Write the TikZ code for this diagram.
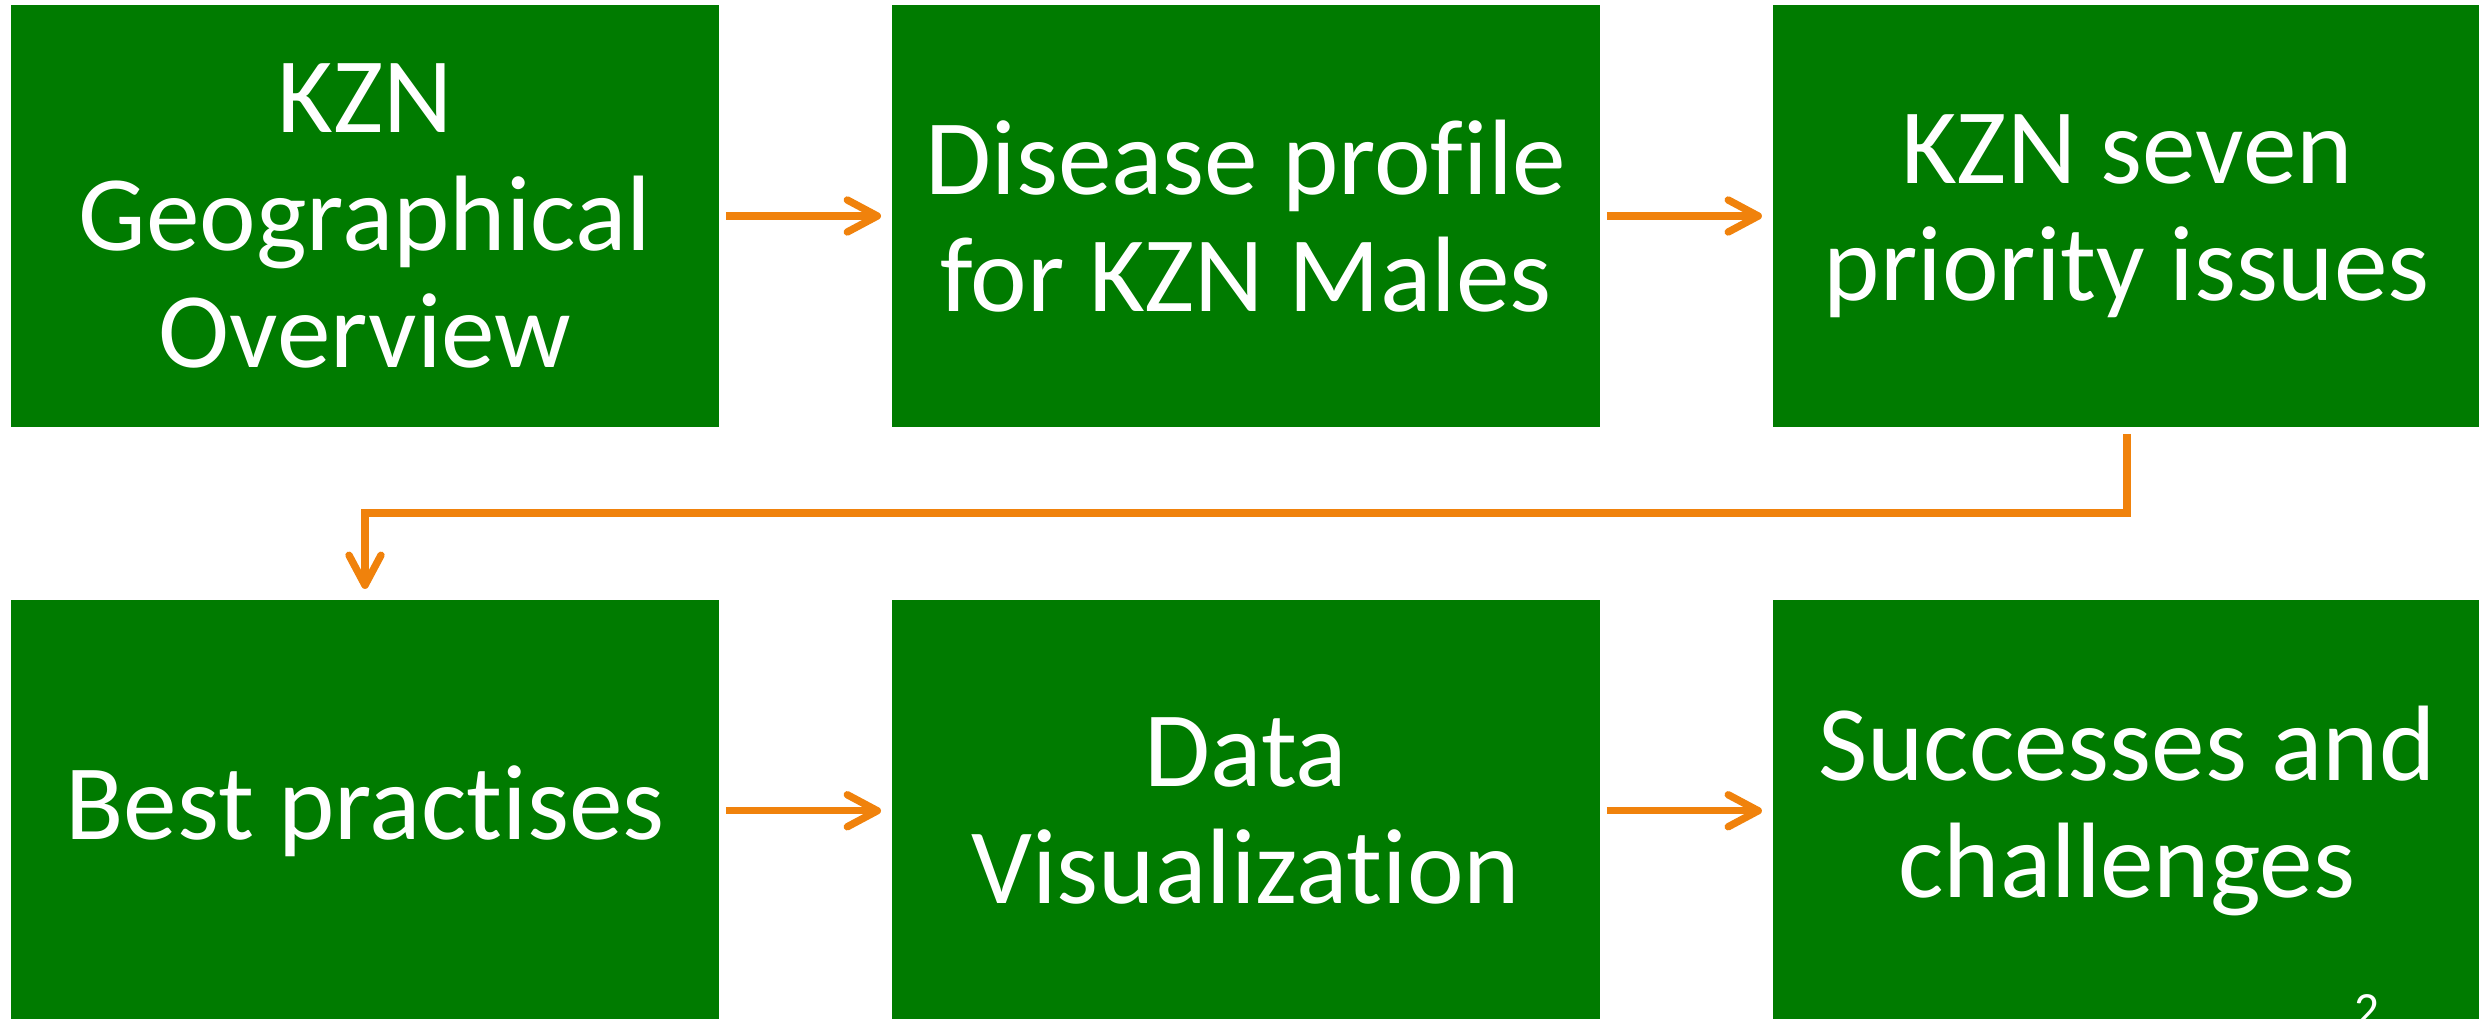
\documentclass[tikz,border=0pt]{standalone}
\usepackage{fontspec}
\setmainfont{Carlito}[Ligatures=NoCommon]
\usetikzlibrary{positioning,arrows.meta}
\definecolor{boxgreen}{RGB}{0,123,0}
\definecolor{arroworange}{RGB}{240,130,12}
\tikzset{
  stage/.style={fill=boxgreen, text=white, minimum width=7.08cm, minimum height=4.22cm,
    inner sep=0pt, align=center, font=\fontsize{30.5pt}{33.3pt}\selectfont},
  flow/.style={draw=arroworange, line width=2.1pt,
    -{Straight Barb[length=0.3cm,width=0.32cm,line cap=round,line join=round]},
    shorten <=0.06cm, shorten >=0.1cm}
}
\begin{document}
\begin{tikzpicture}[x=0.01cm,y=-0.01cm]
\useasboundingbox (0,0) rectangle (2479,1018);
% top row
\node[stage] (geo) at (365,216) {KZN\\Geographical\\Overview};
\node[stage, right=1.71cm of geo] (disease) {Disease profile\\for KZN Males};
\node[stage, right=1.71cm of disease] (priority) {KZN seven\\priority issues};
% bottom row
\node[stage, below=1.71cm of geo] (best) {Best practises};
\node[stage, right=1.71cm of best] (visual) {Data\\Visualization};
\node[stage, right=1.71cm of visual] (success) {Successes and\\challenges};
\node[text=white, anchor=north, inner sep=0pt, font=\fontsize{14pt}{16pt}\selectfont] (pagenum) at (2367,994) {2};
% arrows
\draw[flow] (geo) -- (disease);
\draw[flow] (disease) -- (priority);
\draw[flow] (priority.south) -- ++(0,85) -| (best.north);
\draw[flow] (best) -- (visual);
\draw[flow] (visual) -- (success);
\end{tikzpicture}
\end{document}
